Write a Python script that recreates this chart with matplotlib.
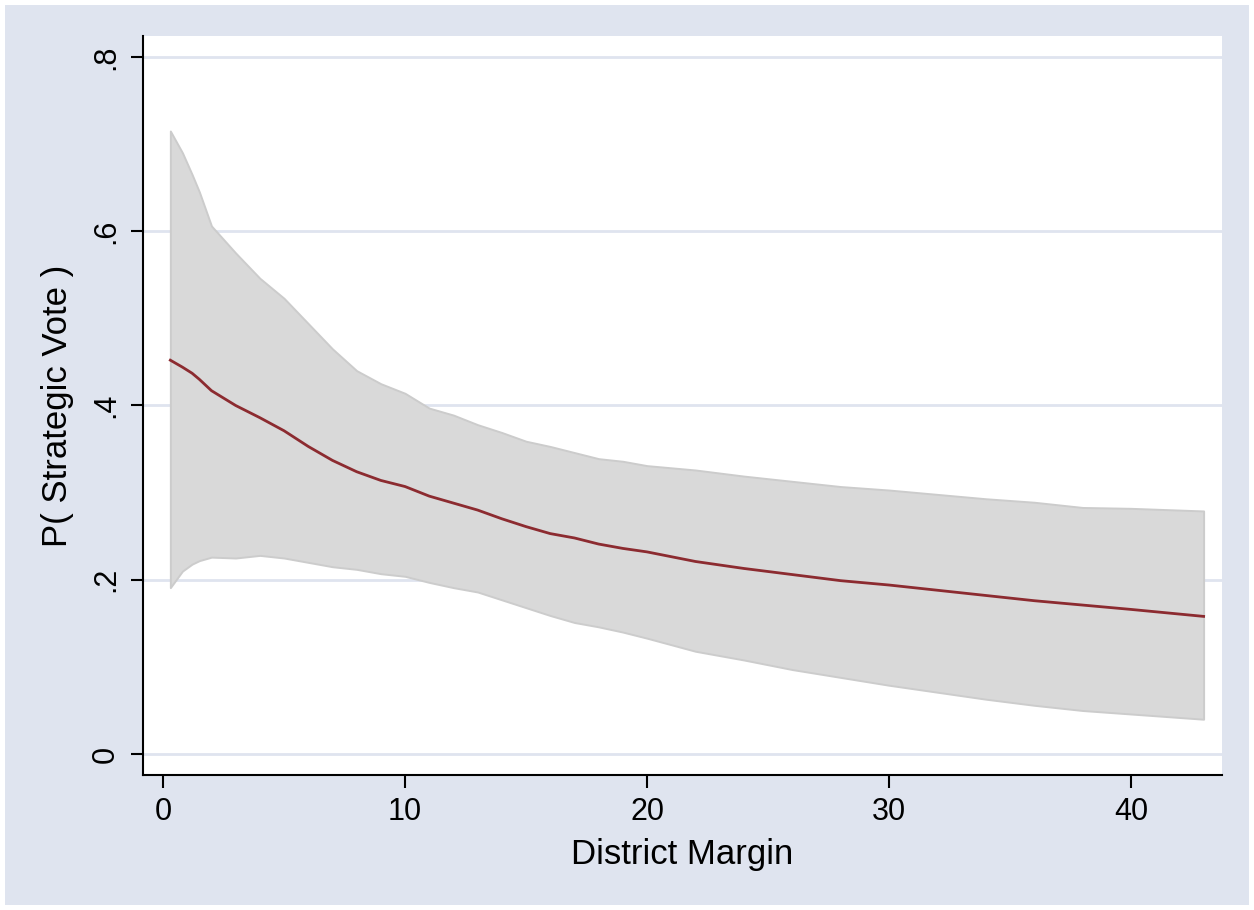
import matplotlib
matplotlib.use("Agg")
import matplotlib.pyplot as plt
from matplotlib.patches import Rectangle

# District margin values where the predictions were read
margin = [0.3, 0.8, 1.2, 1.5, 2, 3, 4, 5, 6, 7, 8, 9, 10, 11, 12, 13, 14, 15, 16, 17,
          18, 19, 20, 22, 24, 26, 28, 30, 32, 34, 36, 38, 40, 43]

# predicted probability of a strategic vote
p_mean = [0.452, 0.444, 0.437, 0.430, 0.417, 0.400, 0.386, 0.371, 0.353, 0.337,
          0.324, 0.314, 0.307, 0.296, 0.288, 0.280, 0.270, 0.261, 0.253, 0.248,
          0.241, 0.236, 0.232, 0.221, 0.213, 0.206, 0.199, 0.194, 0.188, 0.182,
          0.176, 0.171, 0.166, 0.158]

# 95% confidence band
p_upper = [0.715, 0.690, 0.665, 0.645, 0.606, 0.575, 0.546, 0.523, 0.494, 0.465,
           0.440, 0.425, 0.414, 0.397, 0.389, 0.378, 0.369, 0.359, 0.353, 0.346,
           0.339, 0.336, 0.331, 0.326, 0.319, 0.313, 0.307, 0.303, 0.298, 0.293,
           0.289, 0.283, 0.282, 0.279]
p_lower = [0.191, 0.210, 0.218, 0.222, 0.226, 0.225, 0.228, 0.225, 0.220, 0.215,
           0.212, 0.207, 0.204, 0.197, 0.191, 0.186, 0.177, 0.168, 0.159, 0.151,
           0.146, 0.140, 0.133, 0.118, 0.108, 0.097, 0.088, 0.079, 0.071, 0.063,
           0.056, 0.050, 0.046, 0.040]

x_ticks = [0, 10, 20, 30, 40]
y_ticks = [0, 0.2, 0.4, 0.6, 0.8]
y_tick_labels = ["0", ".2", ".4", ".6", ".8"]

bg = "#dfe4ef"
plt.rcParams["font.family"] = ["Liberation Sans", "DejaVu Sans"]

fig = plt.figure(figsize=(12.54, 9.10), dpi=100)
fig.patch.set_facecolor("white")
# Stata-style graph region
fig.patches.append(Rectangle((5 / 1254, 5 / 910), 1244 / 1254, 900 / 910,
                             transform=fig.transFigure, facecolor=bg,
                             edgecolor="none", zorder=-1))

ax = fig.add_axes([143 / 1254, 1 - 775 / 910, (1222 - 143) / 1254, (775 - 36) / 910])
ax.set_facecolor("white")

ax.fill_between(margin, p_lower, p_upper, facecolor="#d9d9d9",
                edgecolor="#cccccc", linewidth=1.4, zorder=2)
ax.plot(margin, p_mean, color="#8c2b30", linewidth=2, zorder=3)

ax.set_xlim(-0.83, 43.76)
ax.set_ylim(-0.024, 0.824)
ax.set_xticks(x_ticks)
ax.set_yticks(y_ticks)
ax.set_yticklabels(y_tick_labels, rotation=90, va="center")
ax.yaxis.grid(True, color=bg, linewidth=2, zorder=1)
ax.set_axisbelow(True)

for side in ["top", "right"]:
    ax.spines[side].set_visible(False)
for side in ["left", "bottom"]:
    ax.spines[side].set_linewidth(1.5)
ax.tick_params(direction="out", length=9, width=1.5, labelsize=22, pad=7)

ax.set_xlabel("District Margin", fontsize=25, labelpad=8)
ax.set_ylabel("P( Strategic Vote )", fontsize=25, labelpad=12)

fig.savefig("out.png", dpi=100, facecolor=fig.get_facecolor())
